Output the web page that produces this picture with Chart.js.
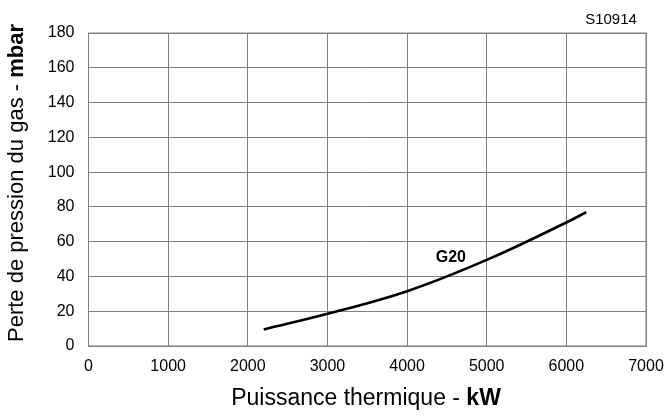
<!DOCTYPE html>
<html>
<head>
<meta charset="utf-8">
<script src="https://cdn.jsdelivr.net/npm/chart.js@4/dist/chart.umd.min.js"></script>
<style>
  html, body { margin: 0; padding: 0; background: #fff; }
  #wrap { width: 665px; height: 419px; }
</style>
</head>
<body>
<div id="wrap"><canvas id="chart" width="665" height="419"></canvas></div>
<script>
// data
const powerKW = [2200, 3000, 4000, 5000, 6000, 6250];
const pressureG20 = [9.5, 18.5, 31.5, 49.5, 71, 77];
const xTicks = [0, 1000, 2000, 3000, 4000, 5000, 6000, 7000];
const yTicks = [0, 20, 40, 60, 80, 100, 120, 140, 160, 180];
const seriesName = 'G20';
const seriesLabelAt = [4550, 51];

const points = powerKW.map((x, i) => ({ x: x, y: pressureG20[i] }));
const FONT = '"Liberation Sans", Arial, sans-serif';

// axis titles (normal + bold part), series label and reference code
const textPlugin = {
    id: 'texts',
    afterDraw(chart) {
        const ctx = chart.ctx;
        const xs = chart.scales.x, ys = chart.scales.y;
        ctx.save();
        ctx.fillStyle = '#000';
        ctx.textBaseline = 'middle';
        ctx.textAlign = 'left';

        // x title
        let f1 = '23px ' + FONT, f2 = 'bold 23px ' + FONT;
        let a = 'Puissance thermique - ', b = 'kW';
        ctx.font = f1; const wa = ctx.measureText(a).width;
        ctx.font = f2; const wb = ctx.measureText(b).width;
        let sx = 366 - (wa + wb) / 2;
        ctx.font = f1; ctx.fillText(a, sx, 399);
        ctx.font = f2; ctx.fillText(b, sx + wa, 399);

        // y title
        f1 = '22px ' + FONT; f2 = 'bold 22px ' + FONT;
        a = 'Perte de pression du gas - '; b = 'mbar';
        ctx.font = f1; const ya = ctx.measureText(a).width;
        ctx.font = f2; const yb = ctx.measureText(b).width;
        ctx.translate(17, 183);
        ctx.rotate(-Math.PI / 2);
        sx = -(ya + yb) / 2;
        ctx.font = f1; ctx.fillText(a, sx, 0);
        ctx.font = f2; ctx.fillText(b, sx + ya, 0);
        ctx.setTransform(1, 0, 0, 1, 0, 0);

        // series label
        ctx.font = 'bold 16px ' + FONT;
        ctx.textAlign = 'center';
        ctx.fillText(seriesName, xs.getPixelForValue(seriesLabelAt[0]), ys.getPixelForValue(seriesLabelAt[1]));

        // code
        ctx.font = '15px ' + FONT;
        ctx.fillText('S10914', 611, 20);
        ctx.restore();
    }
};

new Chart(document.getElementById('chart').getContext('2d'), {
    type: 'line',
    data: {
        datasets: [{
            label: seriesName,
            data: points,
            borderColor: '#000',
            borderWidth: 2.6,
            pointRadius: 0,
            fill: false,
            tension: 0.4
        }]
    },
    options: {
        responsive: false,
        animation: false,
        layout: { padding: { top: 33, right: 19, left: 0, bottom: 0 } },
        plugins: {
            legend: { display: false },
            tooltip: { enabled: false }
        },
        scales: {
            x: {
                type: 'linear',
                min: 0,
                max: 7000,
                afterBuildTicks: s => { s.ticks = xTicks.map(v => ({ value: v })); },
                afterFit: s => { s.height = 73; s.paddingLeft = 0; s.paddingRight = 0; },
                grid: { color: '#808080', lineWidth: 1, drawTicks: false },
                border: { color: '#808080', width: 1 },
                ticks: {
                    padding: 11,
                    color: '#000',
                    callback: v => String(v),
                    font: { family: FONT, size: 16 }
                }
            },
            y: {
                type: 'linear',
                min: 0,
                max: 180,
                afterBuildTicks: s => { s.ticks = yTicks.map(v => ({ value: v })); },
                afterFit: s => { s.width = 88.5; s.paddingTop = 0; s.paddingBottom = 0; },
                grid: { color: '#808080', lineWidth: 1, drawTicks: false },
                border: { color: '#808080', width: 1 },
                ticks: {
                    padding: 14,
                    color: '#000',
                    callback: v => String(v),
                    font: { family: FONT, size: 16 }
                }
            }
        }
    },
    plugins: [textPlugin, {
        id: 'frame',
        afterDraw(chart) {
            const { left, right, top, bottom } = chart.chartArea;
            const ctx = chart.ctx;
            ctx.save();
            ctx.strokeStyle = '#808080';
            ctx.lineWidth = 1;
            ctx.strokeRect(left, top, right - left, bottom - top);
            ctx.restore();
        }
    }]
});
</script>
</body>
</html>
